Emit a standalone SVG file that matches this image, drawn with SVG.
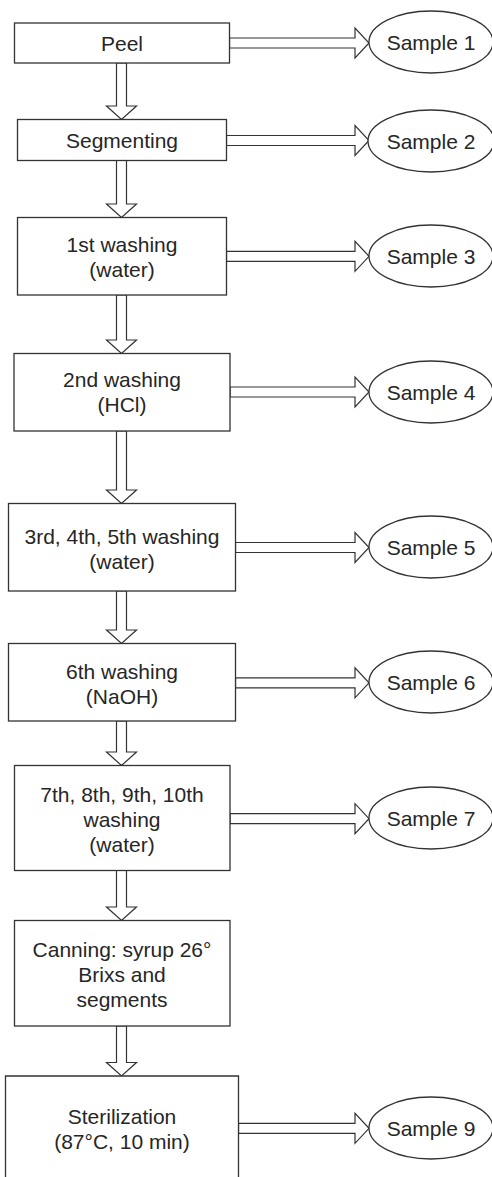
<svg xmlns="http://www.w3.org/2000/svg" width="492" height="1177" viewBox="0 0 492 1177">
<defs>
<style>
.box{fill:#fff;stroke:#333;stroke-width:1.3}
.ell{fill:#fff;stroke:#333;stroke-width:1.3}
.arr{fill:#fff;stroke:#333;stroke-width:1.2;stroke-linejoin:miter}
text{font-family:"Liberation Sans",Arial,sans-serif;font-size:21px;fill:#262626;text-anchor:middle}
</style>
</defs>
<rect width="492" height="1177" fill="#fff"/>
<g id="connectors">
<polygon class="arr" points="229.5,38 355,38 355,28 369,43 355,58 355,48 229.5,48"/>
<polygon class="arr" points="226.5,135.5 355,135.5 355,125.5 369,140.5 355,155.5 355,145.5 226.5,145.5"/>
<polygon class="arr" points="226.5,251.3 355,251.3 355,241.3 369,256.3 355,271.3 355,261.3 226.5,261.3"/>
<polygon class="arr" points="230,387 355,387 355,377 369,392 355,407 355,397 230,397"/>
<polygon class="arr" points="235.5,542.5 355,542.5 355,532.5 369,547.5 355,562.5 355,552.5 235.5,552.5"/>
<polygon class="arr" points="235.5,677.8 355,677.8 355,667.8 369,682.8 355,697.8 355,687.8 235.5,687.8"/>
<polygon class="arr" points="230,813.7 355,813.7 355,803.7 369,818.7 355,833.7 355,823.7 230,823.7"/>
<polygon class="arr" points="238.5,1123.3 355,1123.3 355,1113.3 369,1128.3 355,1143.3 355,1133.3 238.5,1133.3"/>
<polygon class="arr" points="116.5,63 126.5,63 126.5,106 136.5,106 121.5,119.5 106.5,106 116.5,106"/>
<polygon class="arr" points="116.5,160.5 126.5,160.5 126.5,204 136.5,204 121.5,217.5 106.5,204 116.5,204"/>
<polygon class="arr" points="116.5,295 126.5,295 126.5,340 136.5,340 121.5,353.5 106.5,340 116.5,340"/>
<polygon class="arr" points="116.5,431 126.5,431 126.5,490 136.5,490 121.5,503.5 106.5,490 116.5,490"/>
<polygon class="arr" points="116.5,591 126.5,591 126.5,630 136.5,630 121.5,643.5 106.5,630 116.5,630"/>
<polygon class="arr" points="116.5,721 126.5,721 126.5,752 136.5,752 121.5,765.5 106.5,752 116.5,752"/>
<polygon class="arr" points="116.5,870.5 126.5,870.5 126.5,907 136.5,907 121.5,920.5 106.5,907 116.5,907"/>
<polygon class="arr" points="116.5,1026 126.5,1026 126.5,1062.5 136.5,1062.5 121.5,1076 106.5,1062.5 116.5,1062.5"/>
</g>
<g id="peel"><rect class="box" x="14.5" y="23" width="215" height="40"/><text x="122" y="50.5">Peel</text></g>
<g id="segmenting"><rect class="box" x="17.5" y="119.5" width="209" height="41"/><text x="122" y="147.5">Segmenting</text></g>
<g id="wash1"><rect class="box" x="17.5" y="217.5" width="209" height="77.5"/><text x="122" y="252">1st washing</text><text x="122" y="277">(water)</text></g>
<g id="wash2"><rect class="box" x="14" y="353.5" width="216" height="77.5"/><text x="122" y="387">2nd washing</text><text x="122" y="412">(HCl)</text></g>
<g id="wash345"><rect class="box" x="8.5" y="503.5" width="227" height="87.5"/><text x="122" y="543.5">3rd, 4th, 5th washing</text><text x="122" y="568.5">(water)</text></g>
<g id="wash6"><rect class="box" x="8.5" y="643.5" width="227" height="77.5"/><text x="122" y="679">6th washing</text><text x="122" y="704">(NaOH)</text></g>
<g id="wash7to10"><rect class="box" x="14.5" y="765.5" width="215.5" height="105"/><text x="122" y="801.5">7th, 8th, 9th, 10th</text><text x="122" y="826.5">washing</text><text x="122" y="851.5">(water)</text></g>
<g id="canning"><rect class="box" x="14.5" y="920.5" width="215.5" height="105.5"/><text x="122" y="956.5">Canning: syrup 26°</text><text x="122" y="981.5">Brixs and</text><text x="122" y="1006.5">segments</text></g>
<g id="sterilization"><path class="box" d="M5.5,1180 V1076 H238.5 V1180"/><text x="122" y="1123.5">Sterilization</text><text x="122" y="1148.5">(87°C, 10 min)</text></g>
<g id="sample1"><ellipse class="ell" cx="431" cy="42" rx="62" ry="31"/><text x="431" y="49.5">Sample 1</text></g>
<g id="sample2"><ellipse class="ell" cx="431" cy="141" rx="63" ry="31"/><text x="431" y="148.5">Sample 2</text></g>
<g id="sample3"><ellipse class="ell" cx="431" cy="256" rx="62" ry="31"/><text x="431" y="263.5">Sample 3</text></g>
<g id="sample4"><ellipse class="ell" cx="431" cy="392" rx="62" ry="31"/><text x="431" y="399.5">Sample 4</text></g>
<g id="sample5"><ellipse class="ell" cx="431" cy="547" rx="62" ry="31"/><text x="431" y="554.5">Sample 5</text></g>
<g id="sample6"><ellipse class="ell" cx="431" cy="682" rx="62" ry="31"/><text x="431" y="689.5">Sample 6</text></g>
<g id="sample7"><ellipse class="ell" cx="431" cy="818" rx="62" ry="31"/><text x="431" y="825.5">Sample 7</text></g>
<g id="sample9"><ellipse class="ell" cx="431" cy="1128" rx="62" ry="31"/><text x="431" y="1135.5">Sample 9</text></g>
</svg>
